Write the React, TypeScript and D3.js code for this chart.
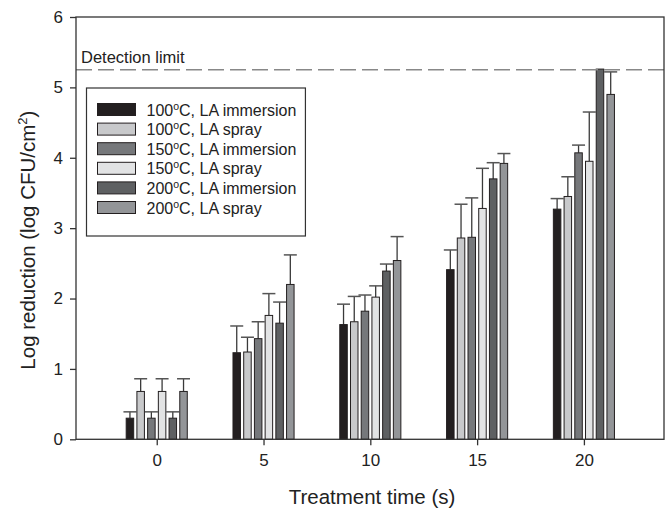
import * as d3 from "d3";
import React, { useRef, useEffect } from "react";

const times = [0, 5, 10, 15, 20];
const seriesNames = [
  "100°C, LA immersion",
  "100°C, LA spray",
  "150°C, LA immersion",
  "150°C, LA spray",
  "200°C, LA immersion",
  "200°C, LA spray",
];
const seriesColors = ["#231f20", "#c8c9cb", "#76787b", "#e2e3e4", "#5e6062", "#939598"];

// means per series, one value per time
const imm100 = [0.3, 1.23, 1.63, 2.41, 3.27];
const spray100 = [0.68, 1.24, 1.67, 2.86, 3.45];
const imm150 = [0.3, 1.43, 1.82, 2.87, 4.07];
const spray150 = [0.68, 1.76, 2.02, 3.28, 3.95];
const imm200 = [0.3, 1.65, 2.39, 3.7, 5.26];
const spray200 = [0.68, 2.2, 2.54, 3.92, 4.9];

// upper error bar ends
const imm100Err = [0.39, 1.61, 1.92, 2.69, 3.42];
const spray100Err = [0.86, 1.45, 2.03, 3.34, 3.73];
const imm150Err = [0.39, 1.67, 2.05, 3.43, 4.18];
const spray150Err = [0.86, 2.07, 2.18, 3.85, 4.65];
const imm200Err = [0.39, 1.95, 2.49, 3.93, 5.26];
const spray200Err = [0.86, 2.62, 2.88, 4.06, 5.22];

const yTicks = [0, 1, 2, 3, 4, 5, 6];
const detectionLimit = 5.25;

const means = [imm100, spray100, imm150, spray150, imm200, spray200];
const errs = [imm100Err, spray100Err, imm150Err, spray150Err, imm200Err, spray200Err];

const App = () => {
  const svgRef = useRef<SVGSVGElement>(null);

  useEffect(() => {
    document.body.style.margin = "0";
    const svg = d3.select(svgRef.current);
    svg.selectAll("*").remove();

    const left = 76, right = 664, top = 17, bottom = 439.3;
    const font = "Arial, 'Liberation Sans', sans-serif";

    const x = d3.scaleLinear().domain([-3.78, 23.75]).range([left, right]);
    const y = d3.scaleLinear().domain([0, 6]).range([bottom, top]);

    // bars inside one group
    const inner = d3
      .scaleBand()
      .domain(seriesNames)
      .range([x(-1.43) - x(0), x(1.43) - x(0)])
      .paddingInner(0.3);

    const rows = times.flatMap((t, ti) =>
      seriesNames.map((s, si) => ({ t, s, si, v: means[si][ti], e: errs[si][ti] }))
    );

    // error bars (drawn first, bars cover lower part)
    const eb = svg.append("g");
    rows.forEach((d) => {
      if (d.e <= d.v) return;
      const cx = x(d.t) + inner(d.s)! + inner.bandwidth() / 2;
      eb.append("line")
        .attr("x1", cx).attr("x2", cx)
        .attr("y1", y(d.v)).attr("y2", y(d.e))
        .attr("stroke", "#3a3a3a").attr("stroke-width", 1.3);
      eb.append("line")
        .attr("x1", cx - 6.5).attr("x2", cx + 6.5)
        .attr("y1", y(d.e)).attr("y2", y(d.e))
        .attr("stroke", "#555").attr("stroke-width", 1.5);
    });

    svg.append("g")
      .selectAll("rect")
      .data(rows)
      .enter()
      .append("rect")
      .attr("x", (d) => x(d.t) + inner(d.s)!)
      .attr("y", (d) => y(d.v))
      .attr("width", inner.bandwidth())
      .attr("height", (d) => y(0) - y(d.v))
      .attr("fill", (d) => seriesColors[d.si])
      .attr("stroke", "#231f20")
      .attr("stroke-width", 1);

    // detection limit
    svg.append("line")
      .attr("x1", left).attr("x2", right)
      .attr("y1", y(detectionLimit)).attr("y2", y(detectionLimit))
      .attr("stroke", "#888").attr("stroke-width", 1.5)
      .attr("stroke-dasharray", "16,6");
    svg.append("text")
      .attr("x", left + 5).attr("y", y(detectionLimit) - 7)
      .attr("font-family", font).attr("font-size", 16.5).attr("fill", "#222")
      .text("Detection limit");

    // frame
    svg.append("rect")
      .attr("x", left).attr("y", top)
      .attr("width", right - left).attr("height", bottom - top)
      .attr("fill", "none").attr("stroke", "#333").attr("stroke-width", 1.3);

    // axes
    const yAxis = svg.append("g")
      .attr("transform", `translate(${left},0)`)
      .call(d3.axisLeft(y).tickValues(yTicks).tickFormat(d3.format("d")).tickSize(6).tickPadding(7));
    const xAxis = svg.append("g")
      .attr("transform", `translate(0,${bottom})`)
      .call(d3.axisBottom(x).tickValues(times).tickFormat(d3.format("d")).tickSize(6).tickPadding(9));
    [yAxis, xAxis].forEach((g) => {
      g.select(".domain").remove();
      g.selectAll("line").attr("stroke", "#333").attr("stroke-width", 1.3);
      g.selectAll("text")
        .attr("font-family", font).attr("font-size", 17).attr("fill", "#222");
    });

    svg.append("text")
      .attr("x", (left + right) / 2 + 2).attr("y", 504)
      .attr("text-anchor", "middle")
      .attr("font-family", font).attr("font-size", 20.5).attr("fill", "#222")
      .text("Treatment time (s)");

    const yt = svg.append("text")
      .attr("transform", `translate(35,${(top + bottom) / 2 + 12}) rotate(-90)`)
      .attr("text-anchor", "middle")
      .attr("font-family", font).attr("font-size", 20.5).attr("fill", "#222");
    yt.append("tspan").text("Log reduction (log CFU/cm");
    yt.append("tspan").attr("dy", -8).attr("font-size", 13).text("2");
    yt.append("tspan").attr("dy", 8).text(")");

    // legend
    const lg = svg.append("g");
    const box = lg.append("rect")
      .attr("x", 86.5).attr("y", 88)
      .attr("height", 148)
      .attr("fill", "#fff").attr("stroke", "#333").attr("stroke-width", 1.2);
    let maxRight = 0;
    seriesNames.forEach((s, i) => {
      const cy = 109.5 + i * 19.6;
      lg.append("rect")
        .attr("x", 97.5).attr("y", cy - 6)
        .attr("width", 38).attr("height", 12)
        .attr("fill", seriesColors[i]).attr("stroke", "#231f20").attr("stroke-width", 1);
      const t = lg.append("text")
        .attr("x", 146.5).attr("y", cy + 6)
        .attr("font-family", font).attr("font-size", 16).attr("fill", "#222");
      const [num, rest] = s.split("°");
      t.append("tspan").text(num);
      t.append("tspan").attr("dy", -6).attr("font-size", 10.5).text("o");
      t.append("tspan").attr("dy", 6).text(rest);
      const bb = (t.node() as SVGTextElement).getBBox();
      maxRight = Math.max(maxRight, bb.x + bb.width);
    });
    box.attr("width", maxRight + 9 - 86.5);
  }, []);

  return <svg ref={svgRef} width={669} height={509} style={{ display: "block" }} />;
};

export default App;
